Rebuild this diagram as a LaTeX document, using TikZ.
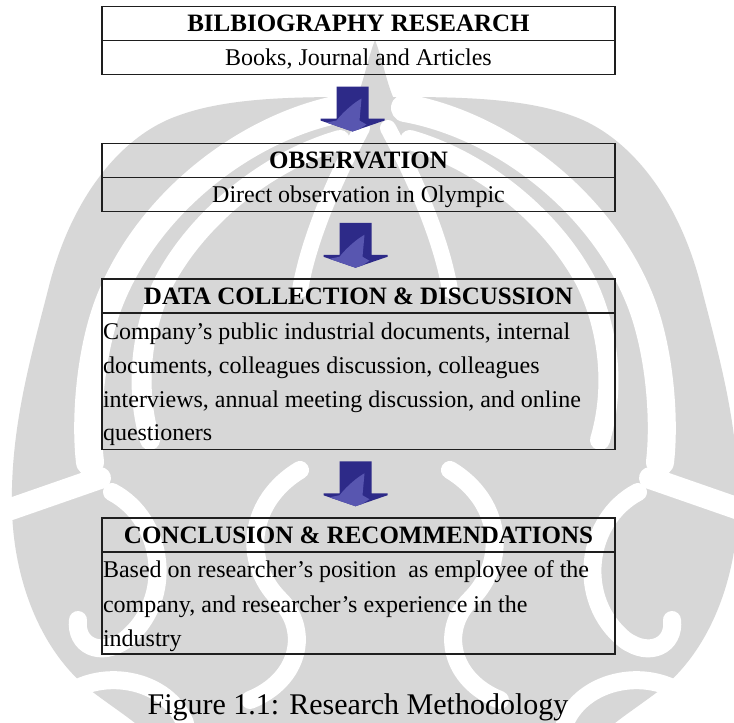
\documentclass[tikz,border=0pt]{standalone}
\usepackage{fontspec}
\setmainfont{Liberation Serif}
\usetikzlibrary{calc}
\definecolor{wmgray}{HTML}{D7D7D7}
\definecolor{arrowdark}{HTML}{2D2A88}
\definecolor{arrowlight}{HTML}{5856B0}
\definecolor{rulecol}{HTML}{1E1E1E}
% one half of the faint emblem in the background (mirrored for the other half)
\newcommand\makarahalf{%
  \fill[wmgray] (375,40) .. controls (368,58) and (364,80) .. (357,97)
    .. controls (300,97) and (230,97) .. (180,115)
    .. controls (120,135) and (70,200) .. (48,290)
    .. controls (30,360) and (10,430) .. (12,510)
    .. controls (14,580) and (40,650) .. (90,690)
    .. controls (110,705) and (125,715) .. (135,723)
    -- (375,723) -- cycle;
  \begin{scope}[draw=white, line cap=round]
    \draw[line width=28pt] (345,108) .. controls (250,125) and (150,200) .. (110,300)
      .. controls (90,350) and (85,420) .. (90,462);
    \draw[line width=22pt] (100,478) -- (8,510);
    \draw[line width=18pt] (112,492) .. controls (165,520) and (175,600) .. (125,640)
      .. controls (100,658) and (75,645) .. (78,620);
    \draw[line width=18pt] (55,705) .. controls (90,665) and (165,675) .. (185,723);
    \draw[line width=20pt] (340,140) .. controls (270,160) and (200,215) .. (165,280)
      .. controls (140,330) and (135,390) .. (150,440);
    \draw[line width=18pt] (300,470) .. controls (250,500) and (240,560) .. (280,600)
      .. controls (310,630) and (300,680) .. (250,700);
    \draw[line width=16pt] (362,128) .. controls (345,160) and (310,230) .. (300,290);
  \end{scope}}
\begin{document}
\begin{tikzpicture}[x=1pt,y=-1pt,
  headbox/.style={draw=rulecol, line width=1.4pt, minimum width=513pt, minimum height=34pt,
    inner sep=0pt, text height=16.5pt, text depth=0pt,
    font=\fontsize{25}{30}\selectfont\bfseries},
  bodybox/.style={draw=rulecol, line width=1.4pt, minimum width=513pt, inner sep=0pt,
    text height=16pt, text depth=0pt, font=\fontsize{24}{30}\selectfont},
  bodyline/.style={anchor=base west, inner sep=0pt, font=\fontsize{24}{30}\selectfont},
  blockarrow/.pic={
    \fill[arrowdark] (-16,0) -- (16,0) -- (16,32) -- (32,32) -- (32,34) -- (0,45)
      -- (-32,34) -- (-32,32) -- (-16,32) -- cycle;
    \begin{scope}
      \clip (-16,0) -- (16,0) -- (16,32) -- (32,32) -- (32,34) -- (0,45)
        -- (-32,34) -- (-32,32) -- (-16,32) -- cycle;
      \fill[arrowlight] (-16,34) .. controls (-8,24) and (2,16) .. (9,12)
        -- (7,34) -- (14,38) -- (0,47) -- (-26,36) -- cycle;
    \end{scope}
  }]
\useasboundingbox (0,0) rectangle (734,723);
\fill[white] (0,0) rectangle (734,723);

% background emblem
\makarahalf
\begin{scope}[shift={(750,0)}, xscale=-1]
  \makarahalf
\end{scope}

% step 1
\node[headbox] (b1head) at (358.5,23.5) {BILBIOGRAPHY RESEARCH};
\node[bodybox, minimum height=34pt] (b1body) at (358.5,57.5) {Books, Journal and Articles};

% step 2
\node[headbox] (b2head) at (358.5,160.5) {OBSERVATION};
\node[bodybox, minimum height=34pt] (b2body) at (358.5,194.5) {Direct observation in Olympic};

% step 3
\node[headbox] (b3head) at (358.5,296) {DATA COLLECTION \& DISCUSSION};
\node[bodybox, minimum height=136.5pt] (b3body) at (358.5,381.25) {};
\node[bodyline] (b3l1) at ($(b3body.north west)+(1.5,27)$) {Company’s public industrial documents, internal};
\node[bodyline] (b3l2) at ($(b3body.north west)+(1.5,61)$) {documents, colleagues discussion, colleagues};
\node[bodyline] (b3l3) at ($(b3body.north west)+(1.5,95)$) {interviews, annual meeting discussion, and online};
\node[bodyline] (b3l4) at ($(b3body.north west)+(1.5,128)$) {questioners};

% step 4
\node[headbox] (b4head) at (358.5,535) {CONCLUSION \& RECOMMENDATIONS};
\node[bodybox, minimum height=102pt] (b4body) at (358.5,603) {};
\node[bodyline] (b4l1) at ($(b4body.north west)+(1.5,26.5)$) {Based on researcher’s position~ as employee of the};
\node[bodyline] (b4l2) at ($(b4body.north west)+(1.5,61)$) {company, and researcher’s experience in the};
\node[bodyline] (b4l3) at ($(b4body.north west)+(1.5,95)$) {industry};

% block arrows between the steps
\pic at ($(b1body.south)!0.5!(b2head.north)+(-6,-22.5)$) {blockarrow};
\pic at ($(b2body.south)!0.5!(b3head.north)+(-3,-22.5)$) {blockarrow};
\pic at ($(b3body.south)!0.5!(b4head.north)+(-3,-22.5)$) {blockarrow};

% caption
\node[anchor=base, inner sep=0pt, font=\fontsize{30}{36}\selectfont] (caption) at (358,714)
  {Figure 1.1: Research Methodology};
\end{tikzpicture}
\end{document}
